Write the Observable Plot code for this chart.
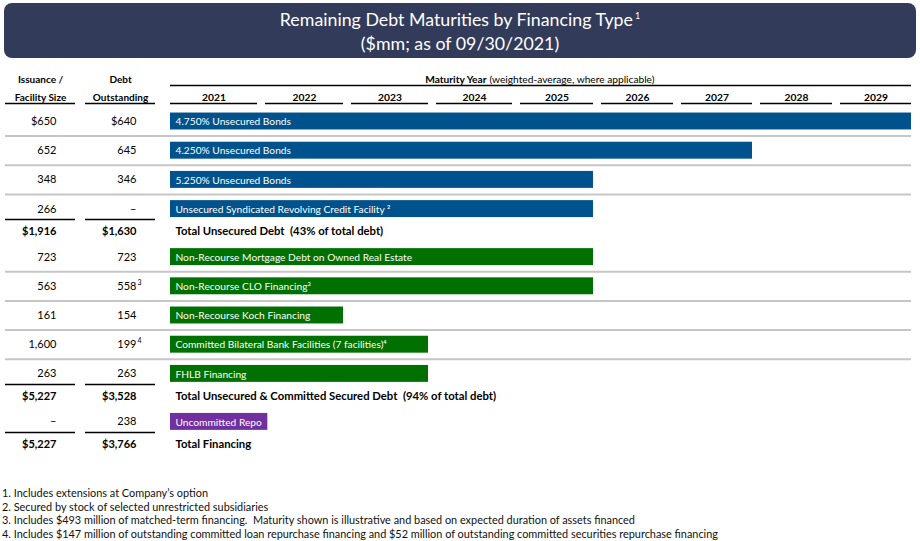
<!DOCTYPE html>
<html>
<head>
<meta charset="utf-8">
<script src="https://cdn.jsdelivr.net/npm/d3@7"></script>
<script src="https://cdn.jsdelivr.net/npm/@observablehq/plot@0.6"></script>
<style>
  body { margin: 0; background: white; font-family: Lato, "Open Sans", sans-serif; width: 920px; height: 541px; position: relative; overflow: hidden; }
  #title { position: absolute; left: 4px; top: 3px; width: 912px; height: 55px; background: #333B5B; border-radius: 8px; color: white; text-align: center; font-size: 17.8px; line-height: 24px; padding-top: 4px; box-sizing: border-box; }
  #title sup { font-size: 9px; vertical-align: 7px; line-height: 0; margin-left: 2px; }
  #chart { position: absolute; left: 0; top: 58px; }
  #notes { position: absolute; left: 2px; top: 486px; font-size: 10.9px; line-height: 13.6px; color: #111; }
</style>
</head>
<body>
<div id="title">Remaining Debt Maturities by Financing Type<sup>1</sup><br>($mm; as of 09/30/2021)</div>
<div id="chart"></div>
<div id="notes">
1. Includes extensions at Company’s option<br>
2. Secured by stock of selected unrestricted subsidiaries<br>
3. Includes $493 million of matched-term financing.&nbsp; Maturity shown is illustrative and based on expected duration of assets financed<br>
4. Includes $147 million of outstanding committed loan repurchase financing and $52 million of outstanding committed securities repurchase financing
</div>
<script>
// ---- data ----
const rowLabels = [
  "4.750% Unsecured Bonds",
  "4.250% Unsecured Bonds",
  "5.250% Unsecured Bonds",
  "Unsecured Syndicated Revolving Credit Facility ²",
  "Total Unsecured Debt  (43% of total debt)",
  "Non-Recourse Mortgage Debt on Owned Real Estate",
  "Non-Recourse CLO Financing³",
  "Non-Recourse Koch Financing",
  "Committed Bilateral Bank Facilities (7 facilities)⁴",
  "FHLB Financing",
  "Total Unsecured & Committed Secured Debt  (94% of total debt)",
  "Uncommitted Repo",
  "Total Financing"
];
const rowKind = ["bar","bar","bar","bar","total","bar","bar","bar","bar","bar","total","bar","total"];
const financingType = ["Unsecured","Unsecured","Unsecured","Unsecured",null,"Secured","Secured","Secured","Secured","Secured",null,"Uncommitted",null];
const maturityYear = [2029, 2027, 2025, 2025, null, 2025, 2025, 2022, 2023, 2023, null, 2021.12, null];
const facilitySize = ["$650","652","348","266","$1,916","723","563","161","1,600","263","$5,227","–","$5,227"];
const debtOutstanding = ["$640","645","346","–","$1,630","723","558","154","199","263","$3,528","238","$3,766"];
const debtNote = ["","","","","","","3","","4","","","",""];
const years = [2021, 2022, 2023, 2024, 2025, 2026, 2027, 2028, 2029];

// ---- layout (row slots) ----
const PITCH = 29.2;
let u = 0;
const rows = rowLabels.map((label, i) => {
  if (i > 0) {
    if (rowKind[i] === "total") u += 22.5 / PITCH;
    else if (rowKind[i - 1] === "total") u += 25.5 / PITCH;
    else u += 1;
  }
  return {label, kind: rowKind[i], type: financingType[i], maturity: maturityYear[i],
          size: facilitySize[i], debt: debtOutstanding[i], note: debtNote[i], u};
});
const bars = rows.filter(d => d.kind === "bar");
const totals = rows.filter(d => d.kind === "total");
const seps = [];
for (let i = 1; i < rows.length; i++) {
  if (rows[i].kind === "bar" && rows[i - 1].kind === "bar") seps.push((rows[i].u + rows[i - 1].u) / 2);
}
const totalLines = totals.map(d => d.u - 12 / PITCH);
const H = 0.29;

const colors = {Unsecured: "#00528C", Secured: "#007000", Uncommitted: "#7030A0"};

const yHeadTop = -1.44, yHeadLine = -1.23, yHead2 = -0.82, yUnder = -0.62;

const plot = Plot.plot({
  width: 920,
  height: 410,
  marginLeft: 0, marginRight: 0, marginTop: 0, marginBottom: 0,
  style: {fontFamily: "Lato, 'Open Sans', sans-serif", fontSize: "11px", color: "black", background: "white"},
  x: {type: "linear", domain: [2020, 2021, 2022, 2023, 2024, 2025, 2026, 2027, 2028, 2029],
      range: [170, 257, 343, 428, 512, 593, 673, 752, 832, 911], axis: null},
  y: {type: "linear", domain: [-2, 11.6], range: [63 - 2 * PITCH, 63 + 11.6 * PITCH], axis: null},
  marks: [
    // gray separators
    Plot.ruleY(seps, {stroke: "#C6C6C6", strokeWidth: 2, insetLeft: 5, insetRight: 9}),
    // black lines above totals (left columns)
    Plot.ruleY(totalLines, {stroke: "black", strokeWidth: 1.5, insetLeft: 5, insetRight: 845}),
    Plot.ruleY(totalLines, {stroke: "black", strokeWidth: 1.5, insetLeft: 85, insetRight: 765}),
    // header underlines for left columns
    Plot.ruleY([yUnder], {stroke: "black", strokeWidth: 1.5, insetLeft: 5, insetRight: 845}),
    Plot.ruleY([yUnder], {stroke: "black", strokeWidth: 1.5, insetLeft: 85, insetRight: 765}),
    // maturity header line
    Plot.ruleY([yHeadLine], {x1: 2020, x2: 2029, stroke: "black", strokeWidth: 1.5}),
    // year underlines
    Plot.ruleY(years.slice(0, 1), {x1: d => d - 1, x2: d => d, y: yUnder, stroke: "black", strokeWidth: 1.5}),
    Plot.ruleY(years.slice(1), {x1: d => d - 1, x2: d => d, y: yUnder, stroke: "black", strokeWidth: 1.5, insetLeft: 8}),
    // year labels
    Plot.text(years.slice(0, 1), {x: d => d - 0.5, y: yHead2, text: d => String(d), fontWeight: "bold", fontSize: 10.3}),
    Plot.text(years.slice(1), {x: d => d - 0.5, y: yHead2, text: d => String(d), fontWeight: "bold", fontSize: 10.3, dx: 4}),
    // column headers
    Plot.text(["Issuance /"], {frameAnchor: "left", dx: 40, y: yHeadTop, text: d => d, fontWeight: "bold", fontSize: 10, textAnchor: "middle"}),
    Plot.text(["Facility Size"], {frameAnchor: "left", dx: 40, y: yHead2, text: d => d, fontWeight: "bold", fontSize: 10, textAnchor: "middle"}),
    Plot.text(["Debt"], {frameAnchor: "left", dx: 120, y: yHeadTop, text: d => d, fontWeight: "bold", fontSize: 10, textAnchor: "middle"}),
    Plot.text(["Outstanding"], {frameAnchor: "left", dx: 120, y: yHead2, text: d => d, fontWeight: "bold", fontSize: 10, textAnchor: "middle"}),
    Plot.text(["Maturity Year"], {frameAnchor: "left", dx: 486, y: yHeadTop, text: d => d, fontWeight: "bold", fontSize: 10.2, textAnchor: "end"}),
    Plot.text(["(weighted-average, where applicable)"], {frameAnchor: "left", dx: 489, y: yHeadTop, text: d => d, fontSize: 10.2, textAnchor: "start"}),
    // bars
    Plot.rect(bars, {x1: 2020, x2: "maturity", y1: d => d.u - H, y2: d => d.u + H, fill: d => colors[d.type]}),
    Plot.text(bars, {x: 2020, y: "u", text: "label", dx: 5, dy: 0.5, textAnchor: "start", fill: "white", fontSize: 10.2}),
    // totals
    Plot.text(totals, {x: 2020, y: "u", text: "label", dx: 5, textAnchor: "start", fontWeight: "bold", fontSize: 11.3}),
    // left columns
    Plot.text(bars, {frameAnchor: "left", dx: 56, y: "u", text: "size", textAnchor: "end", fontSize: 11}),
    Plot.text(bars, {frameAnchor: "left", dx: 136, y: "u", text: "debt", textAnchor: "end", fontSize: 11}),
    Plot.text(totals, {frameAnchor: "left", dx: 56, y: "u", text: "size", textAnchor: "end", fontSize: 11, fontWeight: "bold"}),
    Plot.text(totals, {frameAnchor: "left", dx: 136, y: "u", text: "debt", textAnchor: "end", fontSize: 11, fontWeight: "bold"}),
    Plot.text(rows.filter(d => d.note), {frameAnchor: "left", dx: 137, dy: -4, y: "u", text: "note", textAnchor: "start", fontSize: 7})
  ]
});
document.getElementById("chart").appendChild(plot);
</script>
</body>
</html>
